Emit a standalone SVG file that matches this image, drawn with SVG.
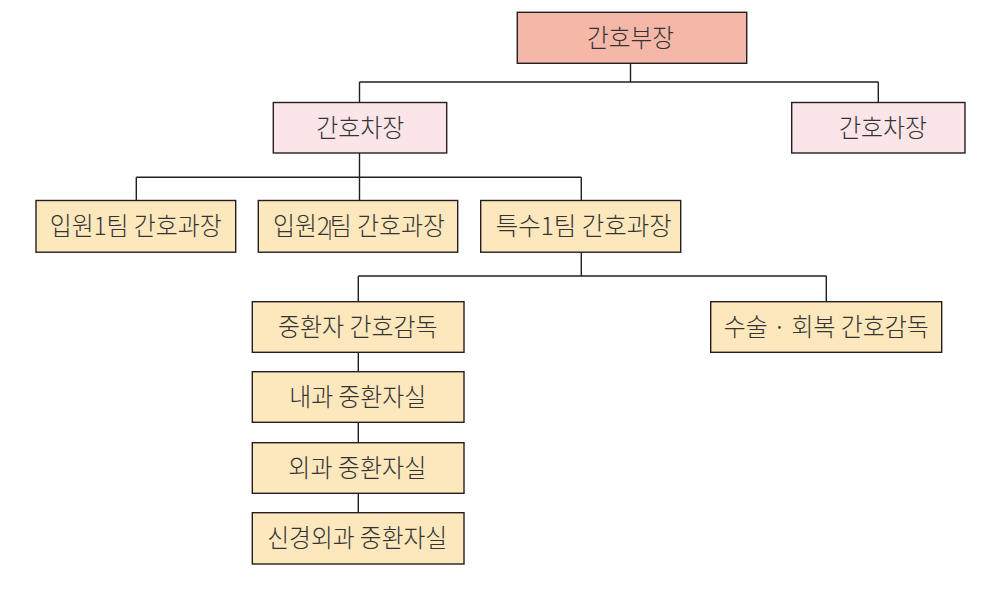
<svg xmlns="http://www.w3.org/2000/svg" width="999" height="592" viewBox="0 0 999 592">
  <style>
    .box { stroke: #231f20; stroke-width: 1.4; }
    .head { fill: #f5b8a8; }
    .deputy { fill: #fbe5e8; }
    .unit { fill: #fde8bd; }
    .lbl { font-family: "Noto Sans CJK KR", "Noto Sans", sans-serif; font-size: 25px; font-weight: 300; fill: #333333; text-anchor: middle; }
    .conn { fill: none; stroke: #231f20; stroke-width: 1.4; }
  </style>
  <rect width="999" height="592" fill="#ffffff"/>

  <g id="connectors">
    <path class="conn" d="M630.5,63.3 V82 M359.5,82 H878.3 M359.5,82 V102.5 M878.3,82 V102.5"/>
    <path class="conn" d="M359.5,153 V200.5 M136.3,177.3 H581.3 M136.3,177.3 V200.5 M581.3,177.3 V200.5"/>
    <path class="conn" d="M581.3,252.2 V276 M358.3,276 H826.3 M358.3,276 V301.7 M826.3,276 V301.7"/>
    <path class="conn" d="M358.3,352.3 V371.7 M358.3,422.3 V442.7 M358.3,493.3 V512.7"/>
  </g>

  <g id="head-nurse">
    <rect class="box head" x="517.3" y="12.3" width="229.4" height="51"/>
    <text class="lbl" x="630.5" y="46.9" textLength="87" lengthAdjust="spacingAndGlyphs">간호부장</text>
  </g>

  <g id="deputy-left">
    <rect class="box deputy" x="273.3" y="102.5" width="173.4" height="50.5"/>
    <text class="lbl" x="360.3" y="137" textLength="88" lengthAdjust="spacingAndGlyphs">간호차장</text>
  </g>

  <g id="deputy-right">
    <rect class="box deputy" x="791.7" y="102.5" width="173.3" height="50.5"/>
    <text class="lbl" x="883" y="137" textLength="88" lengthAdjust="spacingAndGlyphs">간호차장</text>
  </g>

  <g id="inpatient1">
    <rect class="box unit" x="36" y="200.5" width="199.7" height="51.7"/>
    <text class="lbl" x="135.7" y="235.3" textLength="172" lengthAdjust="spacingAndGlyphs">입원1팀 간호과장</text>
  </g>

  <g id="inpatient2">
    <rect class="box unit" x="258.3" y="200.5" width="199.4" height="51.7"/>
    <text class="lbl" x="359" y="235.3" textLength="172" lengthAdjust="spacingAndGlyphs">입원2팀 간호과장</text>
    <line x1="330" y1="220" x2="330" y2="240" stroke="#231f20" stroke-width="1"/>
  </g>

  <g id="special1">
    <rect class="box unit" x="480.7" y="200.5" width="200" height="51.7"/>
    <text class="lbl" x="583.7" y="235.3" textLength="176" lengthAdjust="spacingAndGlyphs">특수1팀 간호과장</text>
  </g>

  <g id="icu-supervisor">
    <rect class="box unit" x="252.3" y="301.7" width="211.7" height="50.6"/>
    <text class="lbl" x="357.8" y="336" textLength="159.5" lengthAdjust="spacingAndGlyphs">중환자 간호감독</text>
  </g>

  <g id="surgery-supervisor">
    <rect class="box unit" x="710.7" y="301.7" width="231" height="50.6"/>
    <text class="lbl" x="826.3" y="336" textLength="205" lengthAdjust="spacingAndGlyphs">수술 · 회복 간호감독</text>
  </g>

  <g id="medical-icu">
    <rect class="box unit" x="252.3" y="371.7" width="211.7" height="50.6"/>
    <text class="lbl" x="357.7" y="406" textLength="137" lengthAdjust="spacingAndGlyphs">내과 중환자실</text>
  </g>

  <g id="surgical-icu">
    <rect class="box unit" x="252.3" y="442.7" width="211.7" height="50.6"/>
    <text class="lbl" x="357.3" y="477" textLength="138" lengthAdjust="spacingAndGlyphs">외과 중환자실</text>
  </g>

  <g id="neuro-icu">
    <rect class="box unit" x="252.3" y="512.7" width="211.7" height="51.3"/>
    <text class="lbl" x="357.2" y="547.3" textLength="180" lengthAdjust="spacingAndGlyphs">신경외과 중환자실</text>
  </g>
</svg>
